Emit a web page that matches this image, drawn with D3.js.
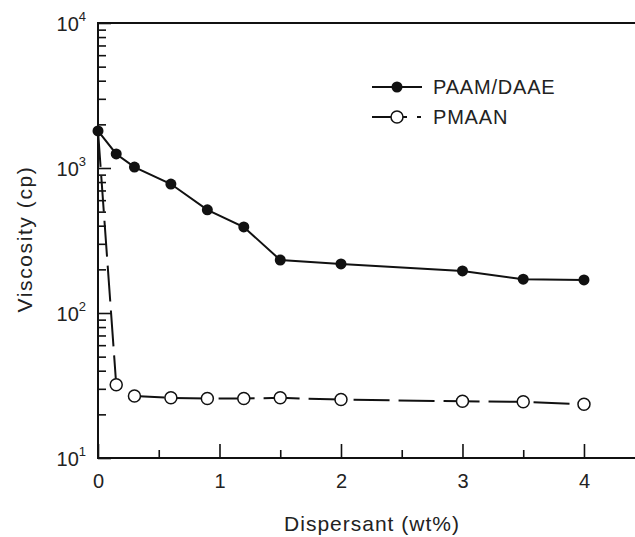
<!DOCTYPE html>
<html>
<head>
<meta charset="utf-8">
<script src="https://cdn.jsdelivr.net/npm/d3@7"></script>
<style>
  html, body { margin: 0; padding: 0; background: #fff; }
  svg text { font-family: "Liberation Sans", Arial, sans-serif; fill: #222; }
</style>
</head>
<body>
<svg id="chart" width="635" height="537"></svg>
<script>
// Dispersant loading (wt%)
const dispersant = [0, 0.15, 0.3, 0.6, 0.9, 1.2, 1.5, 2, 3, 3.5, 4];
// Viscosity (cp) for each dispersant
const paamDaae = [1800, 1250, 1015, 775, 515, 392, 232, 218, 195, 171, 169];
const pmaan    = [1800, 32, 26.8, 26, 25.7, 25.7, 26, 25.3, 24.6, 24.4, 23.5];
const seriesNames = ["PAAM/DAAE", "PMAAN"];
const xTicks = [0, 1, 2, 3, 4];
const xMinorTicks = [0.5, 1.5, 2.5, 3.5];
const yTickExps = [1, 2, 3, 4];

const svg = d3.select("#chart");
const plotLeft = 98, plotRight = 635, plotTop = 23, plotBottom = 458;

const x = d3.scaleLinear().domain([0, 4.42]).range([plotLeft, plotRight]);
const y = d3.scaleLog().domain([10, 10000]).range([plotBottom, plotTop]);

const ink = "#111";

// Minor log ticks (2..9 in each decade)
const yMinor = [];
for (let e = 1; e < 4; e++) for (let m = 2; m <= 9; m++) yMinor.push(m * Math.pow(10, e));

const yMinorAxis = svg.append("g").attr("transform", `translate(${plotLeft},0)`)
  .call(d3.axisLeft(y).tickValues(yMinor).tickSize(-8).tickFormat(""));
const yMajorAxis = svg.append("g").attr("transform", `translate(${plotLeft},0)`)
  .call(d3.axisLeft(y).tickValues(yTickExps.map(e => Math.pow(10, e))).tickSize(-13).tickPadding(12).tickFormat(""));

const xMinorAxis = svg.append("g").attr("transform", `translate(0,${plotBottom})`)
  .call(d3.axisBottom(x).tickValues(xMinorTicks).tickSize(-8).tickFormat(""));
const xMajorAxis = svg.append("g").attr("transform", `translate(0,${plotBottom})`)
  .call(d3.axisBottom(x).tickValues(xTicks).tickSize(-14).tickPadding(16).tickFormat(d3.format("d")));

[yMinorAxis, yMajorAxis, xMinorAxis, xMajorAxis].forEach(g => {
  g.selectAll(".domain").remove();
  g.selectAll(".tick line").attr("stroke", ink).attr("stroke-width", 1.6);
});
xMajorAxis.selectAll(".tick text")
  .attr("font-size", 20).attr("font-family", "Liberation Sans, Arial, sans-serif")
  .attr("fill", "#222").attr("dy", "0.71em");

// Decade labels 10^n on the y axis
yMajorAxis.selectAll(".tick").each(function(d) {
  const t = d3.select(this).select("text")
    .attr("font-size", 20).attr("font-family", "Liberation Sans, Arial, sans-serif")
    .attr("fill", "#222").attr("x", -12).attr("dy", "0.35em");
  t.append("tspan").text("10");
  t.append("tspan").attr("font-size", 13).attr("dy", "-0.75em").text(Math.round(Math.log10(d)));
});

// Frame: left, bottom and top lines
svg.append("path")
  .attr("d", `M${plotRight},${plotTop}H${plotLeft}V${plotBottom}H${plotRight}`)
  .attr("fill", "none").attr("stroke", ink).attr("stroke-width", 2);

// Series
const pts = (vals) => dispersant.map((d, i) => [d, vals[i]]);
const line = d3.line().x(d => x(d[0])).y(d => y(d[1]));

svg.append("path").datum(pts(pmaan))
  .attr("d", line).attr("fill", "none").attr("stroke", ink)
  .attr("stroke-width", 2).attr("stroke-dasharray", "36,9");
svg.append("g").selectAll("circle").data(pts(pmaan).slice(1)).join("circle")
  .attr("cx", d => x(d[0])).attr("cy", d => y(d[1])).attr("r", 6)
  .attr("fill", "#fff").attr("stroke", ink).attr("stroke-width", 1.5);

svg.append("path").datum(pts(paamDaae))
  .attr("d", line).attr("fill", "none").attr("stroke", ink).attr("stroke-width", 2);
svg.append("g").selectAll("circle").data(pts(paamDaae)).join("circle")
  .attr("cx", d => x(d[0])).attr("cy", d => y(d[1])).attr("r", 5.5)
  .attr("fill", ink);

// Legend
const legend = svg.append("g");
legend.append("line").attr("x1", 372).attr("x2", 422).attr("y1", 87).attr("y2", 87)
  .attr("stroke", ink).attr("stroke-width", 2);
legend.append("circle").attr("cx", 397).attr("cy", 87).attr("r", 5.5).attr("fill", ink);
legend.append("line").attr("x1", 372).attr("x2", 421).attr("y1", 117).attr("y2", 117)
  .attr("stroke", ink).attr("stroke-width", 2).attr("stroke-dasharray", "35,10,4");
legend.append("circle").attr("cx", 397).attr("cy", 117).attr("r", 6)
  .attr("fill", "#fff").attr("stroke", ink).attr("stroke-width", 1.5);
legend.selectAll("text").data(seriesNames).join("text")
  .attr("x", 433).attr("y", (d, i) => 87 + i * 30).attr("dy", "0.36em")
  .attr("font-size", 20).attr("letter-spacing", 0.8).text(d => d);

// Axis titles
svg.append("text").attr("x", 372).attr("y", 531).attr("text-anchor", "middle")
  .attr("font-size", 21).attr("letter-spacing", 1).text("Dispersant (wt%)");
svg.append("text").attr("transform", "translate(32,239) rotate(-90)")
  .attr("text-anchor", "middle").attr("font-size", 21).attr("letter-spacing", 1.6)
  .text("Viscosity (cp)");
</script>
</body>
</html>
